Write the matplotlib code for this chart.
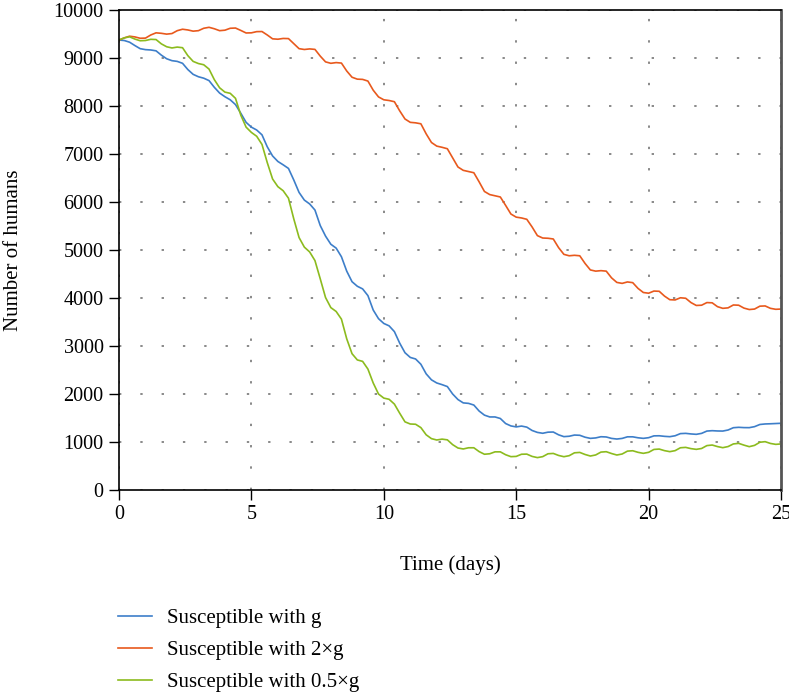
import numpy as np
import matplotlib.pyplot as plt

plt.rcParams['font.family'] = ['Liberation Serif', 'DejaVu Serif']

# time grid in days (0.2 day step)
days = np.round(np.arange(0, 25.01, 0.2), 1)

# susceptible humans, baseline g
sus_g = [
    9375, 9365, 9330, 9260, 9195,
    9175, 9168, 9150, 9060, 8985,
    8945, 8930, 8890, 8760, 8660,
    8610, 8580, 8530, 8390, 8270,
    8194, 8130, 8030, 7850, 7660,
    7560, 7500, 7400, 7150, 6960,
    6845, 6775, 6700, 6460, 6200,
    6040, 5960, 5833, 5510, 5290,
    5120, 5040, 4860, 4560, 4340,
    4245, 4190, 4050, 3750, 3570,
    3470, 3420, 3300, 3060, 2860,
    2762, 2730, 2620, 2420, 2295,
    2230, 2195, 2155, 2000, 1885,
    1815, 1805, 1770, 1645, 1560,
    1522, 1522, 1490, 1385, 1335,
    1315, 1332, 1310, 1240, 1200,
    1182, 1205, 1208, 1150, 1112,
    1120, 1145, 1140, 1100, 1076,
    1085, 1110, 1105, 1075, 1062,
    1075, 1108, 1108, 1088, 1076,
    1090, 1128, 1130, 1118, 1111,
    1130, 1175, 1180, 1168, 1160,
    1180, 1228, 1236, 1230, 1228,
    1250, 1298, 1306, 1300, 1299,
    1320, 1365, 1376, 1380, 1385,
    1390,
]

# susceptible humans, 2 x g
sus_2g = [
    9375, 9420, 9455, 9440, 9412,
    9415, 9480, 9525, 9515, 9498,
    9510, 9570, 9600, 9585, 9560,
    9570, 9620, 9640, 9610, 9570,
    9580, 9620, 9625, 9575, 9522,
    9525, 9550, 9552, 9480, 9400,
    9392, 9408, 9405, 9300, 9195,
    9178, 9190, 9180, 9040, 8920,
    8890, 8905, 8895, 8730, 8600,
    8560, 8555, 8520, 8330, 8190,
    8130, 8115, 8090, 7900, 7730,
    7660, 7650, 7630, 7420, 7240,
    7165, 7140, 7110, 6920, 6730,
    6660, 6635, 6610, 6420, 6220,
    6155, 6130, 6105, 5930, 5750,
    5685, 5668, 5640, 5480, 5300,
    5250, 5245, 5230, 5050, 4910,
    4880, 4890, 4880, 4720, 4585,
    4560, 4570, 4560, 4420, 4325,
    4305, 4335, 4320, 4200, 4115,
    4100, 4145, 4140, 4040, 3965,
    3960, 4005, 3995, 3905, 3845,
    3850, 3905, 3900, 3820, 3785,
    3795, 3855, 3850, 3790, 3760,
    3770, 3830, 3835, 3785, 3765,
    3770,
]

# susceptible humans, 0.5 x g
sus_05g = [
    9375, 9420, 9442, 9395, 9360,
    9365, 9390, 9385, 9295, 9235,
    9210, 9228, 9215, 9050, 8930,
    8885, 8860, 8770, 8550, 8380,
    8290, 8265, 8160, 7810, 7560,
    7450, 7370, 7200, 6820, 6480,
    6320, 6235, 6080, 5650, 5260,
    5060, 4960, 4780, 4400, 4010,
    3800, 3720, 3560, 3150, 2840,
    2710, 2680, 2520, 2230, 2000,
    1915, 1890, 1790, 1600, 1420,
    1375, 1370, 1300, 1150, 1070,
    1042, 1060, 1045, 945, 875,
    855, 880, 880, 800, 745,
    755, 795, 795, 735, 695,
    700, 745, 748, 700, 675,
    695, 755, 762, 720, 694,
    715, 775, 783, 740, 708,
    730, 790, 798, 760, 729,
    750, 810, 818, 785, 764,
    785, 845, 853, 820, 799,
    820, 880, 888, 862, 847,
    865, 925, 937, 905, 882,
    905, 960, 972, 935, 903,
    930, 995, 1007, 970, 951,
    960,
]

labels = ['Susceptible with g', 'Susceptible with 2\u00d7g', 'Susceptible with 0.5\u00d7g']
colors = ['#3d7ec9', '#e8591d', '#8cbb1e']
xticks = [0, 5, 10, 15, 20, 25]
yticks = np.arange(0, 10001, 1000)

fig = plt.figure(figsize=(7.89, 6.92), dpi=100)
ax = fig.add_axes([0.1508, 0.2919, 0.8391, 0.6936])

for vals, lab, col in zip([sus_g, sus_2g, sus_05g], labels, colors):
    ax.plot(days, vals, color=col, lw=1.2, label=lab)

ax.set_xlim(0, 25)
ax.set_ylim(0, 10000)
ax.set_xticks(xticks)
ax.set_yticks(yticks)
ax.tick_params(direction='out', length=7, width=1, labelsize=14.5, pad=4)
ax.grid(True, color='#808080', linestyle=(0, (1.3, 10.5)), linewidth=1.3)

for side in ['left', 'bottom', 'top']:
    ax.spines[side].set_linewidth(1.2)
ax.spines['right'].set_color('#555555')
ax.spines['right'].set_linewidth(2)

ax.set_xlabel('Time (days)', fontsize=15)
ax.set_ylabel('Number of humans', fontsize=15)
ax.xaxis.set_label_coords(0.5, -0.135)
ax.yaxis.set_label_coords(-0.145, 0.5)

fig.legend(loc='upper left', bbox_to_anchor=(0.1496, 0.121), frameon=False,
           fontsize=15, handlelength=1.65, handletextpad=0.7,
           labelspacing=0.6, borderpad=0, borderaxespad=0)

fig.savefig('out.png', dpi=100)
